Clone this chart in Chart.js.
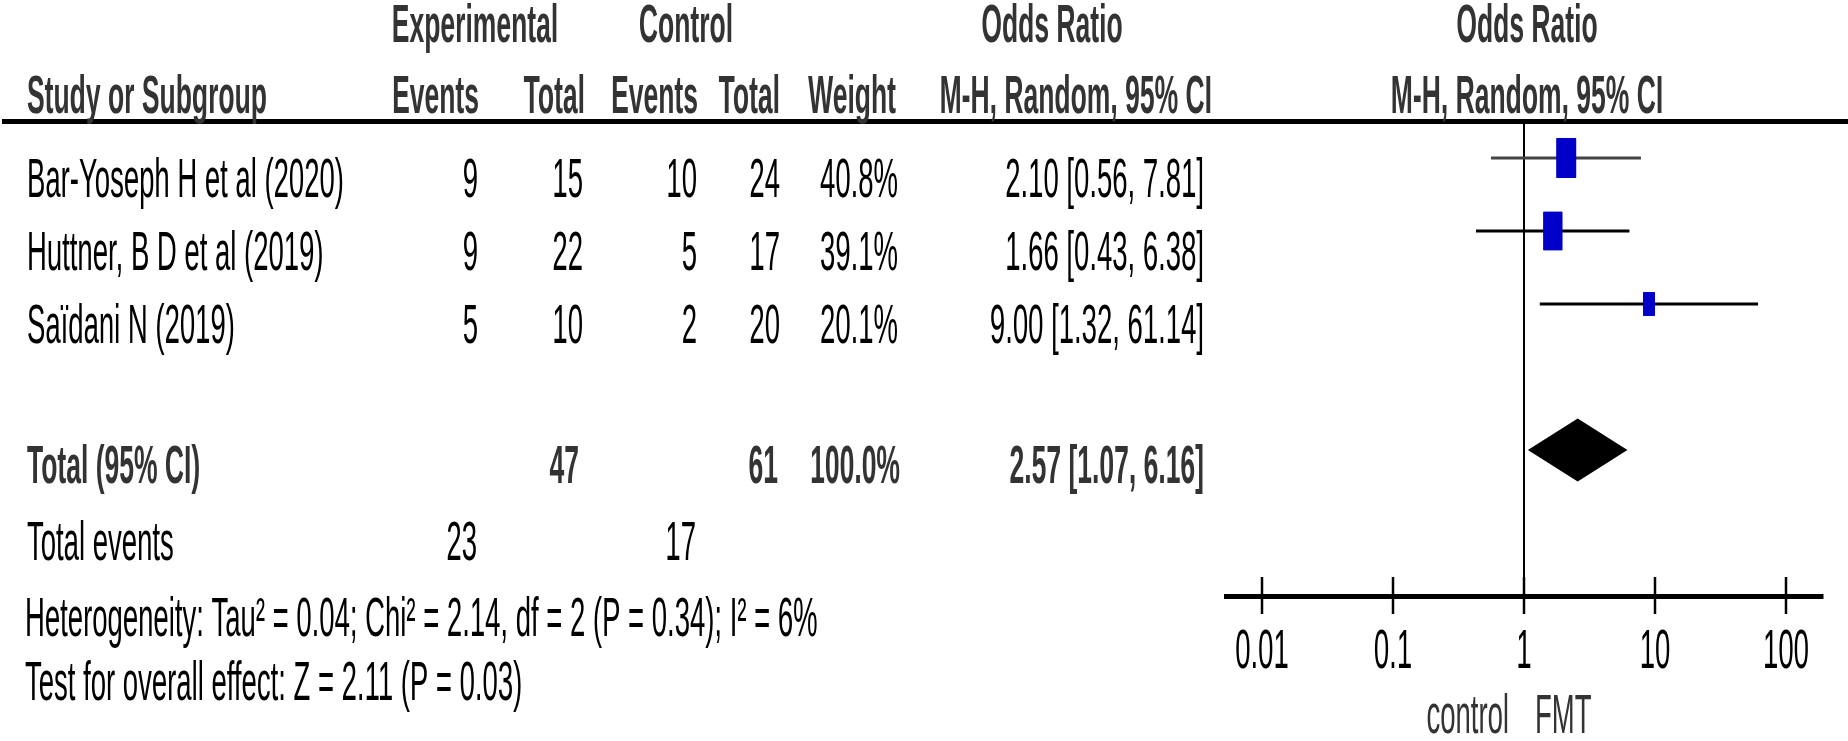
<!DOCTYPE html>
<html>
<head>
<meta charset="utf-8">
<script src="https://cdn.jsdelivr.net/npm/chart.js@4.4.1/dist/chart.umd.min.js"></script>
<style>
  html, body { margin: 0; padding: 0; background: #fff; }
  #wrap { width: 1848px; height: 741px; overflow: hidden; position: relative; }
  /* the picture is squeezed sideways, so draw wide and scale it in x */
  #forest { position: absolute; left: 0; top: 0; transform: scaleX(0.5); transform-origin: 0 0; }
</style>
</head>
<body>
<div id="wrap"><canvas id="forest" width="3696" height="741"></canvas></div>
<script>
// --------------- Data ---------------
const studies = ["Bar-Yoseph H et al (2020)", "Huttner, B D et al (2019)", "Saïdani N (2019)"];
const expEvents = [9, 9, 5];
const expTotal = [15, 22, 10];
const ctlEvents = [10, 5, 2];
const ctlTotal = [24, 17, 20];
const weights = [40.8, 39.1, 20.1];
const orEst = [2.10, 1.66, 9.00];
const orLow = [0.56, 0.43, 1.32];
const orHigh = [7.81, 6.38, 61.14];

const totalLabel = "Total (95% CI)";
const totalExp = 47;
const totalCtl = 61;
const totalWeight = 100.0;
const totalOR = [2.57, 1.07, 6.16]; // estimate, low, high
const eventsLabel = "Total events";
const totalEvExp = 23;
const totalEvCtl = 17;
const heterogeneity = "Heterogeneity: Tau² = 0.04; Chi² = 2.14, df = 2 (P = 0.34); I² = 6%";
const overallEffect = "Test for overall effect: Z = 2.11 (P = 0.03)";

const tickValues = [0.01, 0.1, 1, 10, 100];
const tickLabels = ["0.01", "0.1", "1", "10", "100"];
const favourLeft = "control";
const favourRight = "FMT";

// --------------- Layout / style ---------------
const SX = 0.5;                 // horizontal squeeze applied by css
const cx = v => v / SX;         // page x -> canvas x
const FONT = '"Liberation Sans", Arial, sans-serif';
const FS = 55;                  // regular text
const FS_BOLD = 53;             // headers / totals
const Y_MIN = -0.5, Y_MAX = 6;  // row units, row i sits at y = i
const TOTAL_ROW = 4;
const DIAMOND_H = 0.43;
const BOX_BLUE = "#0000c8";
const ciColors = ["#444", "#000", "#000"];
const decade = 131;             // page px per decade on the OR axis
const X_MIN = Math.pow(10, -2 - 37 / decade);
const X_MAX = Math.pow(10, 2 + 37 / decade);
const AXIS_Y = 596;

const COL = { study: 27, expEv: 478, expTot: 583, ctlEv: 697, ctlTot: 780, weight: 898, or: 1204 };

// --------------- Helpers ---------------
// box side grows with the study weight
function boxRadius(w) {
  return 27.6 * Math.pow(w / weights[0], 0.75);
}

function fmtOR(e, l, h) {
  return `${e.toFixed(2)} [${l.toFixed(2)}, ${h.toFixed(2)}]`;
}

function put(ctx, txt, x, y, align, bold, color) {
  ctx.font = bold ? `bold ${FS_BOLD}px ${FONT}` : `${FS}px ${FONT}`;
  ctx.textAlign = align;
  ctx.textBaseline = "alphabetic";
  ctx.fillStyle = color || (bold ? "#333" : "#000");
  ctx.fillText(txt, cx(x), y);
}

// --------------- Plugins ---------------
const forestExtras = {
  id: "forestExtras",
  afterDatasetsDraw(chart) {
    const { ctx, scales: { x, y } } = chart;
    // summary diamond
    ctx.save();
    ctx.beginPath();
    ctx.moveTo(x.getPixelForValue(totalOR[1]), y.getPixelForValue(TOTAL_ROW));
    ctx.lineTo(x.getPixelForValue(totalOR[0]), y.getPixelForValue(TOTAL_ROW - DIAMOND_H));
    ctx.lineTo(x.getPixelForValue(totalOR[2]), y.getPixelForValue(TOTAL_ROW));
    ctx.lineTo(x.getPixelForValue(totalOR[0]), y.getPixelForValue(TOTAL_ROW + DIAMOND_H));
    ctx.closePath();
    ctx.fillStyle = "#000";
    ctx.fill();
    // tick marks crossing the axis
    const base = chart.chartArea.bottom;
    ctx.strokeStyle = "#000";
    ctx.lineWidth = 5;
    tickValues.forEach(v => {
      const px = x.getPixelForValue(v);
      ctx.beginPath();
      ctx.moveTo(px, base - 19);
      ctx.lineTo(px, base + 18);
      ctx.stroke();
    });
    ctx.restore();
  },
  afterDraw(chart) {
    const { ctx, scales: { x, y } } = chart;
    ctx.save();
    // header rule
    ctx.fillStyle = "#000";
    ctx.fillRect(cx(2), 119, chart.width, 5);

    // headers
    put(ctx, "Experimental", 475, 42, "center", true);
    put(ctx, "Control", 686, 42, "center", true);
    put(ctx, "Odds Ratio", 1052, 42, "center", true);
    put(ctx, "Odds Ratio", 1527, 42, "center", true);
    put(ctx, "Study or Subgroup", COL.study, 113, "left", true);
    put(ctx, "Events", 479, 113, "right", true);
    put(ctx, "Total", 585, 113, "right", true);
    put(ctx, "Events", 698, 113, "right", true);
    put(ctx, "Total", 780, 113, "right", true);
    put(ctx, "Weight", 896, 113, "right", true);
    put(ctx, "M-H, Random, 95% CI", 1212, 113, "right", true);
    put(ctx, "M-H, Random, 95% CI", 1527, 113, "center", true);

    // study rows
    studies.forEach((s, i) => {
      const b = y.getPixelForValue(i) + 39;
      put(ctx, s, COL.study, b, "left");
      put(ctx, String(expEvents[i]), COL.expEv, b, "right");
      put(ctx, String(expTotal[i]), COL.expTot, b, "right");
      put(ctx, String(ctlEvents[i]), COL.ctlEv, b, "right");
      put(ctx, String(ctlTotal[i]), COL.ctlTot, b, "right");
      put(ctx, weights[i].toFixed(1) + "%", COL.weight, b, "right");
      put(ctx, fmtOR(orEst[i], orLow[i], orHigh[i]), COL.or, b, "right");
    });

    // total row
    const tb = y.getPixelForValue(TOTAL_ROW) + 33;
    put(ctx, totalLabel, COL.study, tb, "left", true);
    put(ctx, String(totalExp), COL.expTot - 4, tb, "right", true);
    put(ctx, String(totalCtl), COL.ctlTot - 2, tb, "right", true);
    put(ctx, totalWeight.toFixed(1) + "%", COL.weight + 2, tb, "right", true);
    put(ctx, fmtOR(totalOR[0], totalOR[1], totalOR[2]), COL.or, tb, "right", true);

    put(ctx, eventsLabel, COL.study, 560, "left");
    put(ctx, String(totalEvExp), COL.expEv - 1, 560, "right");
    put(ctx, String(totalEvCtl), COL.ctlEv - 1, 560, "right");
    put(ctx, heterogeneity, COL.study - 2, 636, "left");
    put(ctx, overallEffect, COL.study - 2, 700, "left");

    // favours labels under the axis
    const one = x.getPixelForValue(1) * SX;
    put(ctx, favourLeft, one - 15, 733, "right", false, "#333");
    put(ctx, favourRight, one + 11, 733, "left", false, "#333");
    ctx.restore();
  }
};

// --------------- Chart ---------------
const datasets = [
  {
    type: "scatter",
    data: studies.map((s, i) => ({ x: orEst[i], y: i })),
    pointStyle: "rect",
    pointRadius: ctx => boxRadius(weights[ctx.dataIndex]),
    backgroundColor: BOX_BLUE,
    borderColor: BOX_BLUE,
    borderWidth: 1
  },
  ...studies.map((s, i) => ({
    type: "line",
    data: [{ x: orLow[i], y: i }, { x: orHigh[i], y: i }],
    borderColor: ciColors[i],
    borderWidth: 3,
    pointRadius: 0
  })),
  {
    type: "line",
    data: [{ x: 1, y: Y_MIN }, { x: 1, y: Y_MAX }],
    borderColor: "#000",
    borderWidth: 4,
    pointRadius: 0
  }
];

const chart = new Chart(document.getElementById("forest"), {
  type: "scatter",
  data: { datasets },
  options: {
    responsive: false,
    devicePixelRatio: 1,
    animation: false,
    events: [],
    layout: { padding: { left: cx(1225), right: 3696 - cx(1823), top: 121.5, bottom: 0 } },
    plugins: { legend: { display: false }, tooltip: { enabled: false } },
    scales: {
      x: {
        type: "logarithmic",
        position: "bottom",
        min: X_MIN,
        max: X_MAX,
        afterBuildTicks: s => { s.ticks = tickValues.map(v => ({ value: v })); },
        afterFit: s => { s.height = 741 - AXIS_Y; },
        grid: { display: false, drawTicks: false },
        border: { display: true, color: "#000", width: 5 },
        ticks: {
          autoSkip: false,
          maxRotation: 0,
          padding: 24,
          color: "#000",
          font: { family: FONT, size: FS },
          callback: v => tickLabels[tickValues.indexOf(v)]
        }
      },
      y: {
        type: "linear",
        display: false,
        reverse: true,
        min: Y_MIN,
        max: Y_MAX
      }
    }
  },
  plugins: [forestExtras]
});
</script>
</body>
</html>
